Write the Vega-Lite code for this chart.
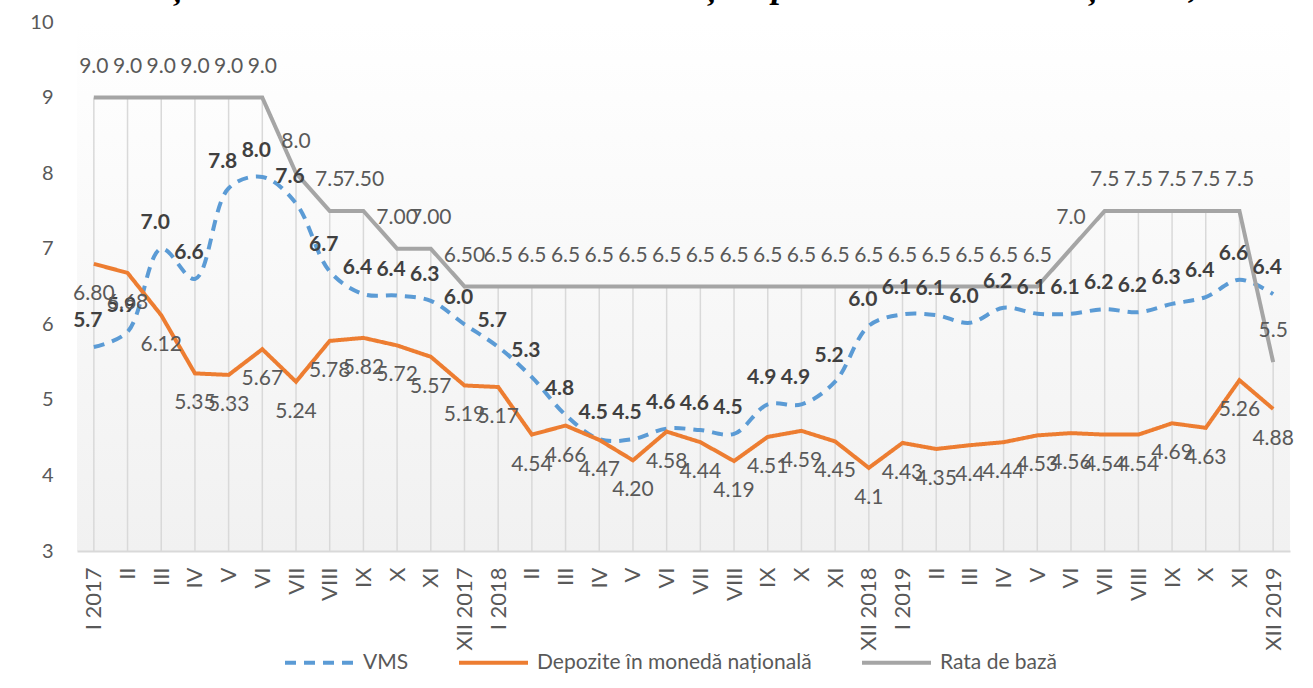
{
  "$schema": "https://vega.github.io/schema/vega-lite/v6.json",
  "width": 1213,
  "height": 529,
  "autosize": "none",
  "padding": {"left": 77, "top": 22, "right": 23, "bottom": 137},
  "background": "#ffffff",
  "title": {
    "text": "Evoluția lunară a ratelor dobânzii la VMS și depozitele în monedă națională, %",
    "font": "Liberation Serif",
    "fontSize": 35,
    "fontStyle": "italic",
    "fontWeight": "bold",
    "color": "#000000",
    "anchor": "middle",
    "baseline": "alphabetic",
    "offset": 6,
    "dx": -22,
    "dy": 26
  },
  "config": {
    "font": "Lato",
    "view": {"stroke": null, "fill": {"gradient": "linear", "x1": 0, "y1": 0, "x2": 0, "y2": 1, "stops": [{"offset": 0, "color": "#ffffff"}, {"offset": 1, "color": "#f1f1f1"}]}}
  },
  "data": {
    "values": [
      {"m": "I 2017", "s": "VMS", "v": 5.7, "t": "5.7"},
      {"m": "II 2017", "s": "VMS", "v": 5.9, "t": "5.9"},
      {"m": "III 2017", "s": "VMS", "v": 7.0, "t": "7.0"},
      {"m": "IV 2017", "s": "VMS", "v": 6.6, "t": "6.6"},
      {"m": "V 2017", "s": "VMS", "v": 7.8, "t": "7.8"},
      {"m": "VI 2017", "s": "VMS", "v": 7.95, "t": "8.0"},
      {"m": "VII 2017", "s": "VMS", "v": 7.6, "t": "7.6"},
      {"m": "VIII 2017", "s": "VMS", "v": 6.7, "t": "6.7"},
      {"m": "IX 2017", "s": "VMS", "v": 6.4, "t": "6.4"},
      {"m": "X 2017", "s": "VMS", "v": 6.38, "t": "6.4"},
      {"m": "XI 2017", "s": "VMS", "v": 6.31, "t": "6.3"},
      {"m": "XII 2017", "s": "VMS", "v": 6.0, "t": "6.0"},
      {"m": "I 2018", "s": "VMS", "v": 5.7, "t": "5.7"},
      {"m": "II 2018", "s": "VMS", "v": 5.3, "t": "5.3"},
      {"m": "III 2018", "s": "VMS", "v": 4.8, "t": "4.8"},
      {"m": "IV 2018", "s": "VMS", "v": 4.48, "t": "4.5"},
      {"m": "V 2018", "s": "VMS", "v": 4.48, "t": "4.5"},
      {"m": "VI 2018", "s": "VMS", "v": 4.62, "t": "4.6"},
      {"m": "VII 2018", "s": "VMS", "v": 4.6, "t": "4.6"},
      {"m": "VIII 2018", "s": "VMS", "v": 4.55, "t": "4.5"},
      {"m": "IX 2018", "s": "VMS", "v": 4.94, "t": "4.9"},
      {"m": "X 2018", "s": "VMS", "v": 4.94, "t": "4.9"},
      {"m": "XI 2018", "s": "VMS", "v": 5.24, "t": "5.2"},
      {"m": "XII 2018", "s": "VMS", "v": 5.98, "t": "6.0"},
      {"m": "I 2019", "s": "VMS", "v": 6.13, "t": "6.1"},
      {"m": "II 2019", "s": "VMS", "v": 6.12, "t": "6.1"},
      {"m": "III 2019", "s": "VMS", "v": 6.02, "t": "6.0"},
      {"m": "IV 2019", "s": "VMS", "v": 6.22, "t": "6.2"},
      {"m": "V 2019", "s": "VMS", "v": 6.14, "t": "6.1"},
      {"m": "VI 2019", "s": "VMS", "v": 6.14, "t": "6.1"},
      {"m": "VII 2019", "s": "VMS", "v": 6.2, "t": "6.2"},
      {"m": "VIII 2019", "s": "VMS", "v": 6.16, "t": "6.2"},
      {"m": "IX 2019", "s": "VMS", "v": 6.27, "t": "6.3"},
      {"m": "X 2019", "s": "VMS", "v": 6.36, "t": "6.4"},
      {"m": "XI 2019", "s": "VMS", "v": 6.59, "t": "6.6"},
      {"m": "XII 2019", "s": "VMS", "v": 6.4, "t": "6.4"},
      {"m": "I 2017", "s": "Depozite în monedă națională", "v": 6.80, "t": "6.80"},
      {"m": "II 2017", "s": "Depozite în monedă națională", "v": 6.68, "t": "6.68"},
      {"m": "III 2017", "s": "Depozite în monedă națională", "v": 6.12, "t": "6.12"},
      {"m": "IV 2017", "s": "Depozite în monedă națională", "v": 5.35, "t": "5.35"},
      {"m": "V 2017", "s": "Depozite în monedă națională", "v": 5.33, "t": "5.33"},
      {"m": "VI 2017", "s": "Depozite în monedă națională", "v": 5.67, "t": "5.67"},
      {"m": "VII 2017", "s": "Depozite în monedă națională", "v": 5.24, "t": "5.24"},
      {"m": "VIII 2017", "s": "Depozite în monedă națională", "v": 5.78, "t": "5.78"},
      {"m": "IX 2017", "s": "Depozite în monedă națională", "v": 5.82, "t": "5.82"},
      {"m": "X 2017", "s": "Depozite în monedă națională", "v": 5.72, "t": "5.72"},
      {"m": "XI 2017", "s": "Depozite în monedă națională", "v": 5.57, "t": "5.57"},
      {"m": "XII 2017", "s": "Depozite în monedă națională", "v": 5.19, "t": "5.19"},
      {"m": "I 2018", "s": "Depozite în monedă națională", "v": 5.17, "t": "5.17"},
      {"m": "II 2018", "s": "Depozite în monedă națională", "v": 4.54, "t": "4.54"},
      {"m": "III 2018", "s": "Depozite în monedă națională", "v": 4.66, "t": "4.66"},
      {"m": "IV 2018", "s": "Depozite în monedă națională", "v": 4.47, "t": "4.47"},
      {"m": "V 2018", "s": "Depozite în monedă națională", "v": 4.20, "t": "4.20"},
      {"m": "VI 2018", "s": "Depozite în monedă națională", "v": 4.58, "t": "4.58"},
      {"m": "VII 2018", "s": "Depozite în monedă națională", "v": 4.44, "t": "4.44"},
      {"m": "VIII 2018", "s": "Depozite în monedă națională", "v": 4.19, "t": "4.19"},
      {"m": "IX 2018", "s": "Depozite în monedă națională", "v": 4.51, "t": "4.51"},
      {"m": "X 2018", "s": "Depozite în monedă națională", "v": 4.59, "t": "4.59"},
      {"m": "XI 2018", "s": "Depozite în monedă națională", "v": 4.45, "t": "4.45"},
      {"m": "XII 2018", "s": "Depozite în monedă națională", "v": 4.10, "t": "4.1"},
      {"m": "I 2019", "s": "Depozite în monedă națională", "v": 4.43, "t": "4.43"},
      {"m": "II 2019", "s": "Depozite în monedă națională", "v": 4.35, "t": "4.35"},
      {"m": "III 2019", "s": "Depozite în monedă națională", "v": 4.40, "t": "4.4"},
      {"m": "IV 2019", "s": "Depozite în monedă națională", "v": 4.44, "t": "4.44"},
      {"m": "V 2019", "s": "Depozite în monedă națională", "v": 4.53, "t": "4.53"},
      {"m": "VI 2019", "s": "Depozite în monedă națională", "v": 4.56, "t": "4.56"},
      {"m": "VII 2019", "s": "Depozite în monedă națională", "v": 4.54, "t": "4.54"},
      {"m": "VIII 2019", "s": "Depozite în monedă națională", "v": 4.54, "t": "4.54"},
      {"m": "IX 2019", "s": "Depozite în monedă națională", "v": 4.69, "t": "4.69"},
      {"m": "X 2019", "s": "Depozite în monedă națională", "v": 4.63, "t": "4.63"},
      {"m": "XI 2019", "s": "Depozite în monedă națională", "v": 5.26, "t": "5.26"},
      {"m": "XII 2019", "s": "Depozite în monedă națională", "v": 4.88, "t": "4.88"},
      {"m": "I 2017", "s": "Rata de bază", "v": 9.0, "t": "9.0"},
      {"m": "II 2017", "s": "Rata de bază", "v": 9.0, "t": "9.0"},
      {"m": "III 2017", "s": "Rata de bază", "v": 9.0, "t": "9.0"},
      {"m": "IV 2017", "s": "Rata de bază", "v": 9.0, "t": "9.0"},
      {"m": "V 2017", "s": "Rata de bază", "v": 9.0, "t": "9.0"},
      {"m": "VI 2017", "s": "Rata de bază", "v": 9.0, "t": "9.0"},
      {"m": "VII 2017", "s": "Rata de bază", "v": 8.0, "t": "8.0"},
      {"m": "VIII 2017", "s": "Rata de bază", "v": 7.5, "t": "7.5"},
      {"m": "IX 2017", "s": "Rata de bază", "v": 7.5, "t": "7.50"},
      {"m": "X 2017", "s": "Rata de bază", "v": 7.0, "t": "7.00"},
      {"m": "XI 2017", "s": "Rata de bază", "v": 7.0, "t": "7.00"},
      {"m": "XII 2017", "s": "Rata de bază", "v": 6.5, "t": "6.50"},
      {"m": "I 2018", "s": "Rata de bază", "v": 6.5, "t": "6.5"},
      {"m": "II 2018", "s": "Rata de bază", "v": 6.5, "t": "6.5"},
      {"m": "III 2018", "s": "Rata de bază", "v": 6.5, "t": "6.5"},
      {"m": "IV 2018", "s": "Rata de bază", "v": 6.5, "t": "6.5"},
      {"m": "V 2018", "s": "Rata de bază", "v": 6.5, "t": "6.5"},
      {"m": "VI 2018", "s": "Rata de bază", "v": 6.5, "t": "6.5"},
      {"m": "VII 2018", "s": "Rata de bază", "v": 6.5, "t": "6.5"},
      {"m": "VIII 2018", "s": "Rata de bază", "v": 6.5, "t": "6.5"},
      {"m": "IX 2018", "s": "Rata de bază", "v": 6.5, "t": "6.5"},
      {"m": "X 2018", "s": "Rata de bază", "v": 6.5, "t": "6.5"},
      {"m": "XI 2018", "s": "Rata de bază", "v": 6.5, "t": "6.5"},
      {"m": "XII 2018", "s": "Rata de bază", "v": 6.5, "t": "6.5"},
      {"m": "I 2019", "s": "Rata de bază", "v": 6.5, "t": "6.5"},
      {"m": "II 2019", "s": "Rata de bază", "v": 6.5, "t": "6.5"},
      {"m": "III 2019", "s": "Rata de bază", "v": 6.5, "t": "6.5"},
      {"m": "IV 2019", "s": "Rata de bază", "v": 6.5, "t": "6.5"},
      {"m": "V 2019", "s": "Rata de bază", "v": 6.5, "t": "6.5"},
      {"m": "VI 2019", "s": "Rata de bază", "v": 7.0, "t": "7.0"},
      {"m": "VII 2019", "s": "Rata de bază", "v": 7.5, "t": "7.5"},
      {"m": "VIII 2019", "s": "Rata de bază", "v": 7.5, "t": "7.5"},
      {"m": "IX 2019", "s": "Rata de bază", "v": 7.5, "t": "7.5"},
      {"m": "X 2019", "s": "Rata de bază", "v": 7.5, "t": "7.5"},
      {"m": "XI 2019", "s": "Rata de bază", "v": 7.5, "t": "7.5"},
      {"m": "XII 2019", "s": "Rata de bază", "v": 5.5, "t": "5.5"}
    ]
  },
  "encoding": {
    "x": {
      "field": "m",
      "type": "ordinal",
      "sort": null,
      "scale": {"type": "point", "padding": 0.5},
      "axis": {
        "title": null,
        "labelAngle": -90,
        "labelFont": "Lato",
        "labelFontSize": 22,
        "labelColor": "#595959",
        "labelPadding": 16,
        "labelOverlap": false,
        "labelExpr": "indexof(['I','XII'], split(datum.label, ' ')[0]) >= 0 ? datum.label : split(datum.label, ' ')[0]",
        "ticks": false,
        "grid": false,
        "domainColor": "#d9d9d9",
        "domainWidth": 2
      }
    },
    "y": {
      "field": "v",
      "type": "quantitative",
      "scale": {"domain": [3, 10], "nice": false, "zero": false},
      "axis": {
        "title": null,
        "values": [3, 4, 5, 6, 7, 8, 9, 10],
        "labelFont": "Lato",
        "labelFontSize": 20,
        "labelColor": "#595959",
        "labelPadding": 24,
        "ticks": false,
        "domain": false,
        "grid": false
      }
    }
  },
  "layer": [
    {
      "transform": [{"filter": "datum.s === 'Rata de bază'"}],
      "mark": {"type": "rule", "color": "#d9d9d9", "strokeWidth": 1.5},
      "encoding": {"y2": {"datum": 3}}
    },
    {
      "transform": [{"filter": "datum.s === 'VMS'"}],
      "mark": {"type": "line", "strokeWidth": 4, "interpolate": "catmull-rom"},
      "encoding": {
        "color": {"field": "s", "type": "nominal", "scale": {"domain": ["VMS", "Depozite în monedă națională", "Rata de bază"], "range": ["#5b9bd5", "#ed7d31", "#a5a5a5"]}, "legend": {"title": null, "orient": "none", "legendX": 206, "legendY": 604, "direction": "horizontal", "symbolType": "stroke", "symbolSize": 4761, "symbolStrokeWidth": 4, "labelFont": "Lato", "labelFontSize": 21, "labelColor": "#595959", "labelOffset": 7, "labelLimit": 0, "columnPadding": 42}},
        "strokeDash": {"field": "s", "type": "nominal", "scale": {"domain": ["VMS", "Depozite în monedă națională", "Rata de bază"], "range": [[11, 8], [1, 0], [1, 0]]}, "legend": {"title": null, "orient": "none", "legendX": 206, "legendY": 604, "direction": "horizontal", "symbolType": "stroke", "symbolSize": 4761, "symbolStrokeWidth": 4, "labelFont": "Lato", "labelFontSize": 21, "labelColor": "#595959", "labelOffset": 7, "labelLimit": 0, "columnPadding": 42}}
      }
    },
    {
      "transform": [{"filter": "datum.s !== 'VMS'"}],
      "mark": {"type": "line", "strokeWidth": 4},
      "encoding": {
        "color": {"field": "s", "type": "nominal", "scale": {"domain": ["VMS", "Depozite în monedă națională", "Rata de bază"], "range": ["#5b9bd5", "#ed7d31", "#a5a5a5"]}},
        "strokeDash": {"field": "s", "type": "nominal", "scale": {"domain": ["VMS", "Depozite în monedă națională", "Rata de bază"], "range": [[11, 8], [1, 0], [1, 0]]}}
      }
    },
    {
      "transform": [{"filter": "datum.s === 'Rata de bază'"}],
      "mark": {"type": "text", "font": "Lato", "fontSize": 21, "color": "#595959", "align": "center", "baseline": "alphabetic", "dy": -25},
      "encoding": {"text": {"field": "t"}}
    },
    {
      "transform": [{"filter": "datum.s === 'VMS'"}],
      "mark": {"type": "text", "font": "Lato", "fontSize": 21, "fontWeight": "bold", "color": "#404040", "align": "center", "baseline": "alphabetic", "dx": -6, "dy": -20},
      "encoding": {"text": {"field": "t"}}
    },
    {
      "transform": [{"filter": "datum.s === 'Depozite în monedă națională'"}],
      "mark": {"type": "text", "font": "Lato", "fontSize": 21, "color": "#595959", "align": "center", "baseline": "alphabetic", "dy": 36},
      "encoding": {"text": {"field": "t"}}
    }
  ]
}
